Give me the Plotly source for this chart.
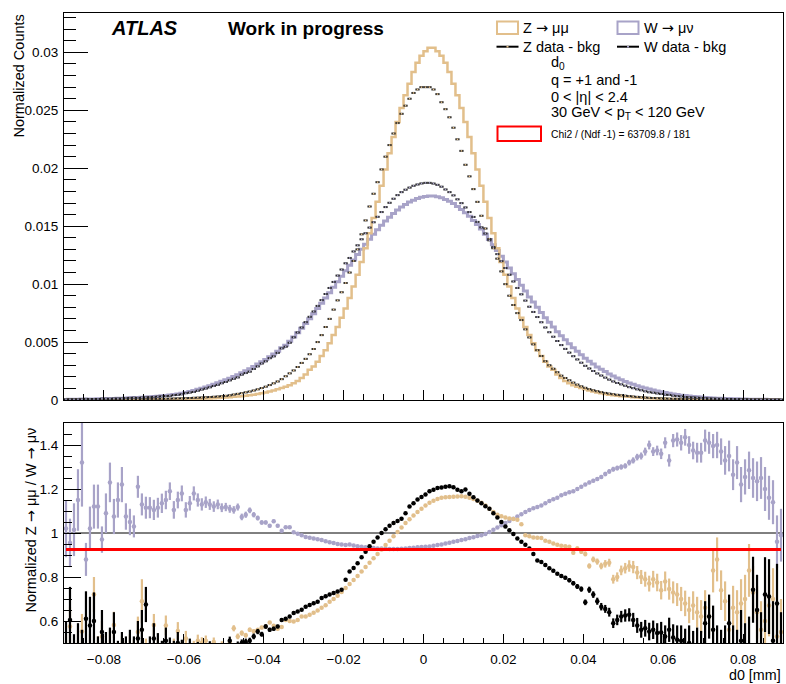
import plotly.graph_objects as go

# ---------------- binning ----------------
x_min, x_max, n_bins = -0.09, 0.09, 180
bin_w = (x_max - x_min) / n_bins
centers = [round(x_min + bin_w * (i + 0.5), 5) for i in range(n_bins)]

# ---------------- top panel (values in units of 1e-4) ----------------
z_mc_e4 = [
    0.10, 0.11, 0.12, 0.12, 0.13, 0.14, 0.15, 0.16, 0.17, 0.18,
    0.19, 0.20, 0.22, 0.23, 0.25, 0.27, 0.29, 0.31, 0.33, 0.36,
    0.38, 0.41, 0.44, 0.47, 0.50, 0.54, 0.58, 0.62, 0.66, 0.70,
    0.75, 0.82, 0.90, 1.0, 1.1, 1.2, 1.35, 1.5, 1.7, 1.9,
    2.1, 2.4, 2.7, 3.0, 3.3, 3.7, 4.1, 4.6, 5.2, 5.8,
    6.5, 7.3, 8.2, 9.2, 10.3, 11.5, 12.8, 14.5, 16.5, 19,
    22, 26, 29, 33, 38, 43, 49, 56, 63, 71,
    79, 88, 98, 108, 119, 131, 144, 157, 171, 185,
    199, 213, 227, 240, 252, 263, 273, 283, 291, 297,
    301, 304, 304, 301, 297, 291, 283, 273, 263, 252,
    240, 227, 213, 199, 185, 171, 157, 144, 131, 119,
    108, 98, 88, 79, 71, 63, 56, 49, 43, 38,
    33, 29, 26, 22, 19, 16.5, 14.5, 12.8, 11.5, 10.3,
    9.2, 8.2, 7.3, 6.5, 5.8, 5.2, 4.6, 4.1, 3.7, 3.3,
    3.0, 2.7, 2.4, 2.1, 1.9, 1.7, 1.5, 1.35, 1.2, 1.1,
    1.0, 0.90, 0.82, 0.75, 0.70, 0.66, 0.62, 0.58, 0.54, 0.50,
    0.47, 0.44, 0.41, 0.38, 0.36, 0.33, 0.31, 0.29, 0.27, 0.25,
    0.23, 0.22, 0.20, 0.19, 0.18, 0.17, 0.16, 0.15, 0.14, 0.13,
]
z_data_e4 = [
    0.22, 0.24, 0.25, 0.27, 0.28, 0.30, 0.32, 0.34, 0.36, 0.38,
    0.40, 0.42, 0.45, 0.48, 0.52, 0.56, 0.60, 0.66, 0.72, 0.78,
    0.85, 0.90, 0.95, 1.0, 1.06, 1.12, 1.2, 1.3, 1.4, 1.5,
    1.6, 1.75, 1.9, 2.05, 2.2, 2.4, 2.6, 2.8, 3.05, 3.3,
    3.6, 4.1, 4.7, 5.3, 5.9, 6.6, 7.3, 8.2, 9.2, 10.3,
    11.5, 12.9, 14.4, 16, 18, 20.5, 23, 25.5, 28.5, 32,
    35.5, 39.5, 44, 50, 56, 63, 70, 78, 86, 93,
    101, 110, 120, 130, 143, 155, 167, 178, 188, 199,
    210, 220, 230, 239, 247, 254, 260, 265, 268, 270,
    270, 270, 268, 264, 257, 251, 244, 235, 225, 215,
    203, 193, 182, 171, 159, 148, 139, 131, 122, 111,
    100, 90, 82, 75, 69, 61, 54, 48, 43, 38,
    33.5, 30, 27, 24, 21, 19, 17, 15, 13.3, 11.8,
    10.5, 9.4, 8.4, 7.6, 6.8, 6.1, 5.5, 5.0, 4.5, 4.1,
    3.7, 3.35, 3.0, 2.7, 2.4, 2.15, 1.92, 1.72, 1.55, 1.4,
    1.27, 1.14, 1.02, 0.92, 0.84, 0.78, 0.73, 0.69, 0.65, 0.62,
    0.59, 0.55, 0.52, 0.48, 0.45, 0.42, 0.39, 0.36, 0.33, 0.31,
    0.29, 0.27, 0.25, 0.24, 0.22, 0.21, 0.20, 0.18, 0.17, 0.16,
]
w_mc_e4 = [
    0.6, 0.65, 0.7, 0.75, 0.8, 0.85, 0.9, 0.95, 1.0, 1.1,
    1.2, 1.3, 1.4, 1.5, 1.6, 1.75, 1.9, 2.05, 2.2, 2.4,
    2.6, 2.8, 3.0, 3.3, 3.6, 3.9, 4.3, 4.7, 5.2, 5.8,
    6.5, 7.3, 8.2, 9.2, 10.2, 11.3, 12.4, 13.6, 14.8, 16.1,
    17.4, 18.8, 20.2, 21.8, 23.5, 25.2, 27, 29, 31, 33,
    35, 37.3, 39.7, 42, 45, 47.2, 50.7, 54.3, 58.1, 62,
    66, 70.2, 74.5, 78.9, 83.4, 88, 92.6, 97.3, 102, 106.7,
    111.5, 116.2, 120.9, 125.5, 130, 134.5, 138.8, 143, 147, 150.8,
    154.5, 157.8, 161, 163.9, 166.5, 168.8, 170.8, 172.5, 173.9, 174.9,
    175.6, 176, 176, 175.5, 174.5, 173, 171.5, 169.5, 167, 164.5,
    161.5, 158.5, 155, 151.5, 147.5, 143, 138.5, 134, 129, 124,
    119, 114, 109, 104, 99, 94, 89, 84.5, 80, 75.5,
    71, 67, 63, 59, 55.5, 52, 48.5, 45, 42, 39,
    36, 33.5, 31, 28.5, 26.5, 24.5, 22.5, 20.7, 19, 17.5,
    16, 14.7, 13.5, 12.4, 11.3, 10.3, 9.4, 8.6, 7.8, 7.1,
    6.4, 5.8, 5.2, 4.7, 4.2, 3.8, 3.4, 3.1, 2.8, 2.5,
    2.25, 2.0, 1.8, 1.6, 1.45, 1.3, 1.2, 1.1, 1.0, 0.9,
    0.82, 0.75, 0.7, 0.65, 0.6, 0.55, 0.5, 0.47, 0.44, 0.41,
]
w_data_e4 = [
    0.59, 0.68, 0.69, 0.65, 0.61, 0.97, 0.88, 0.85, 0.89, 1.13,
    1.10, 1.06, 1.30, 1.30, 1.31, 1.63, 1.81, 1.99, 1.82, 2.12,
    2.33, 2.51, 2.71, 2.96, 3.17, 3.39, 3.61, 4.25, 4.52, 4.92,
    5.88, 6.43, 6.95, 8.0, 9.03, 9.91, 10.97, 12.14, 13.1, 14.44,
    15.56, 16.94, 18.28, 19.5, 21.9, 23.27, 24.48, 26.78, 29.03, 31.49,
    33.4, 36.1, 37.7, 40.66, 44.55, 46.0, 49.4, 54.1, 58.3, 62.6,
    67.2, 71.8, 76.4, 81.2, 86.2, 91.5, 96.7, 101.9, 107.4, 112.6,
    118, 122.6, 128.2, 133.5, 138.7, 143.9, 148.8, 153.4, 158.1, 162.2,
    166.5, 170.2, 173.7, 176.8, 179.4, 181.5, 183.3, 184.9, 186, 186.9,
    187.4, 187.4, 186.8, 185.7, 184.1, 181.7, 179.4, 176.6, 173.2, 169.9,
    166.2, 162.2, 158, 153.7, 149, 143.7, 137.8, 132, 125.9, 119.8,
    113.9, 108.1, 102.3, 96.7, 91.2, 85.8, 80.5, 76, 71.6, 67.1,
    62.6, 58.5, 54.6, 50.9, 47.4, 44.1, 40.9, 37.8, 35, 32.2,
    29.5, 27.2, 25, 22.9, 21.1, 19.3, 17.6, 16, 14.7, 13.5,
    12.3, 11.1, 10.2, 9.2, 8.4, 7.5, 6.7, 6.3, 5.7, 5.2,
    4.5, 4.4, 3.7, 3.3, 3.0, 2.6, 2.4, 2.25, 2.05, 1.83,
    1.58, 1.42, 1.29, 1.14, 1.06, 0.98, 0.89, 0.87, 0.76, 0.74,
    0.65, 0.58, 0.56, 0.53, 0.48, 0.45, 0.43, 0.41, 0.46, 0.41,
]

# ---------------- ratio panel ----------------
ratio_w = [
    1.02, 0.955, 1.015, 1.15, 1.32, 0.88, 1.02, 1.12, 1.12, 0.97,
    1.09, 1.23, 1.075, 1.15, 1.22, 1.075, 1.05, 1.03, 1.21, 1.13,
    1.115, 1.115, 1.105, 1.115, 1.135, 1.15, 1.19, 1.105, 1.15, 1.18,
    1.105, 1.135, 1.18, 1.15, 1.13, 1.14, 1.13, 1.12, 1.13, 1.115,
    1.118, 1.11, 1.105, 1.118, 1.073, 1.083, 1.103, 1.083, 1.068, 1.048,
    1.048, 1.033, 1.053, 1.033, 1.01, 1.026, 1.026, 1.003, 0.997, 0.99,
    0.982, 0.978, 0.975, 0.972, 0.968, 0.962, 0.958, 0.955, 0.95, 0.948,
    0.945, 0.948, 0.943, 0.94, 0.937, 0.935, 0.933, 0.932, 0.93, 0.93,
    0.928, 0.927, 0.927, 0.927, 0.928, 0.93, 0.932, 0.933, 0.935, 0.936,
    0.937, 0.939, 0.942, 0.945, 0.948, 0.952, 0.956, 0.96, 0.964, 0.968,
    0.972, 0.977, 0.981, 0.986, 0.99, 0.995, 1.005, 1.015, 1.025, 1.035,
    1.045, 1.055, 1.065, 1.075, 1.085, 1.095, 1.105, 1.112, 1.118, 1.125,
    1.135, 1.145, 1.153, 1.16, 1.172, 1.178, 1.185, 1.19, 1.2, 1.21,
    1.22, 1.23, 1.238, 1.245, 1.255, 1.268, 1.28, 1.29, 1.295, 1.3,
    1.305, 1.32, 1.33, 1.345, 1.35, 1.37, 1.40, 1.37, 1.375, 1.36,
    1.41, 1.33, 1.42, 1.425, 1.41, 1.435, 1.40, 1.375, 1.365, 1.365,
    1.42, 1.41, 1.395, 1.40, 1.37, 1.33, 1.35, 1.265, 1.32, 1.22,
    1.255, 1.285, 1.25, 1.235, 1.25, 1.2, 1.16, 1.14, 0.96, 0.99,
]
ratio_w_err = [
    0.13, 0.11, 0.12, 0.14, 0.2, 0.075, 0.1, 0.1, 0.1, 0.06,
    0.09, 0.09, 0.08, 0.08, 0.08, 0.06, 0.06, 0.05, 0.05, 0.05,
    0.05, 0.048, 0.046, 0.045, 0.044, 0.042, 0.04, 0.04, 0.038, 0.036,
    0.035, 0.033, 0.032, 0.03, 0.028, 0.026, 0.025, 0.024, 0.022, 0.02,
    0.019, 0.018, 0.017, 0.016, 0.015, 0.014, 0.013, 0.012, 0.011, 0.01,
    0.009, 0.008, 0.008, 0.007, 0.007, 0.006, 0.006, 0.005, 0.005, 0.005,
    0.004, 0.004, 0.004, 0.004, 0.004, 0.003, 0.003, 0.003, 0.003, 0.003,
    0.003, 0.003, 0.003, 0.003, 0.003, 0.003, 0.003, 0.003, 0.003, 0.003,
    0.003, 0.003, 0.003, 0.003, 0.003, 0.003, 0.003, 0.003, 0.003, 0.003,
    0.003, 0.003, 0.003, 0.003, 0.003, 0.003, 0.003, 0.003, 0.003, 0.003,
    0.003, 0.003, 0.003, 0.003, 0.003, 0.003, 0.003, 0.003, 0.003, 0.003,
    0.003, 0.003, 0.003, 0.003, 0.003, 0.003, 0.004, 0.004, 0.004, 0.004,
    0.004, 0.005, 0.005, 0.005, 0.005, 0.006, 0.006, 0.006, 0.007, 0.007,
    0.007, 0.008, 0.008, 0.009, 0.009, 0.01, 0.01, 0.011, 0.011, 0.012,
    0.012, 0.013, 0.014, 0.015, 0.016, 0.018, 0.02, 0.02, 0.022, 0.024,
    0.025, 0.028, 0.03, 0.032, 0.035, 0.038, 0.04, 0.04, 0.045, 0.045,
    0.05, 0.05, 0.055, 0.06, 0.06, 0.065, 0.07, 0.07, 0.075, 0.08,
    0.08, 0.085, 0.09, 0.09, 0.095, 0.1, 0.1, 0.1, 0.12, 0.12,
]
ratio_z = [
    0.45, 0.575, 0.40, 0.48, 0.552, 0.42, 0.47, 0.72, 0.46, 0.53,
    0.44, 0.49, 0.582, 0.43, 0.47, 0.45, 0.48, 0.46, 0.55, 0.69,
    0.47, 0.45, 0.582, 0.47, 0.44, 0.58, 0.46, 0.48, 0.555, 0.47,
    0.52, 0.46, 0.48, 0.51, 0.50, 0.51, 0.47, 0.505, 0.47, 0.49,
    0.48, 0.50, 0.567, 0.53, 0.545, 0.535, 0.56, 0.553, 0.56, 0.57,
    0.575, 0.593, 0.578, 0.565, 0.573, 0.605, 0.60, 0.598, 0.605, 0.62,
    0.62, 0.628, 0.638, 0.648, 0.66, 0.672, 0.687, 0.70, 0.715, 0.732,
    0.75, 0.768, 0.786, 0.805, 0.825, 0.845, 0.865, 0.885, 0.905, 0.925,
    0.945, 0.965, 0.985, 1.005, 1.025, 1.045, 1.063, 1.08, 1.095, 1.11,
    1.125, 1.137, 1.147, 1.155, 1.16, 1.163, 1.164, 1.165, 1.166, 1.167,
    1.165, 1.16, 1.155, 1.147, 1.137, 1.125, 1.11, 1.095, 1.083, 1.076,
    1.07, 1.066, 1.064, 1.06, 1.04, 0.99, 0.985, 0.98, 0.978, 0.977,
    0.965, 0.96, 0.952, 0.947, 0.942, 0.94, 0.938, 0.91, 0.93, 0.915,
    0.905, 0.85, 0.88, 0.87, 0.85, 0.86, 0.865, 0.79, 0.80, 0.83,
    0.84, 0.85, 0.845, 0.82, 0.80, 0.79, 0.77, 0.79, 0.775, 0.74,
    0.78, 0.745, 0.73, 0.72, 0.70, 0.68, 0.65, 0.67, 0.64, 0.62,
    0.66, 0.62, 0.83, 0.88, 0.74, 0.69, 0.56, 0.66, 0.64, 0.68,
    0.70, 0.83, 0.73, 0.64, 0.56, 0.60, 0.67, 0.70, 0.53, 0.55,
]
ratio_z_err = [
    0.08, 0.09, 0.08, 0.08, 0.08, 0.07, 0.07, 0.08, 0.07, 0.07,
    0.07, 0.07, 0.06, 0.06, 0.06, 0.06, 0.06, 0.06, 0.07, 0.1,
    0.05, 0.05, 0.05, 0.05, 0.045, 0.045, 0.04, 0.04, 0.04, 0.035,
    0.035, 0.03, 0.03, 0.028, 0.026, 0.024, 0.022, 0.02, 0.02, 0.018,
    0.016, 0.015, 0.014, 0.013, 0.012, 0.011, 0.01, 0.009, 0.008, 0.008,
    0.007, 0.007, 0.006, 0.006, 0.005, 0.005, 0.005, 0.004, 0.004, 0.004,
    0.003, 0.003, 0.003, 0.003, 0.003, 0.003, 0.003, 0.003, 0.003, 0.003,
    0.003, 0.003, 0.003, 0.003, 0.003, 0.003, 0.003, 0.003, 0.003, 0.003,
    0.003, 0.003, 0.003, 0.003, 0.003, 0.003, 0.003, 0.003, 0.003, 0.003,
    0.003, 0.003, 0.003, 0.003, 0.003, 0.003, 0.003, 0.003, 0.003, 0.003,
    0.003, 0.003, 0.003, 0.003, 0.003, 0.003, 0.003, 0.003, 0.003, 0.003,
    0.003, 0.003, 0.003, 0.003, 0.003, 0.003, 0.003, 0.003, 0.003, 0.003,
    0.004, 0.004, 0.005, 0.005, 0.006, 0.006, 0.007, 0.008, 0.009, 0.01,
    0.011, 0.012, 0.013, 0.014, 0.015, 0.017, 0.018, 0.02, 0.021, 0.022,
    0.024, 0.026, 0.028, 0.03, 0.032, 0.034, 0.036, 0.038, 0.04, 0.042,
    0.045, 0.048, 0.05, 0.052, 0.055, 0.058, 0.06, 0.065, 0.07, 0.075,
    0.08, 0.085, 0.1, 0.1, 0.09, 0.09, 0.1, 0.1, 0.1, 0.11,
    0.11, 0.12, 0.12, 0.12, 0.13, 0.13, 0.14, 0.14, 0.15, 0.15,
]
ratio_zw = [
    0.45, 0.605, 0.42, 0.47, 0.44, 0.61, 0.58, 0.60, 0.43, 0.55,
    0.45, 0.47, 0.55, 0.42, 0.46, 0.44, 0.48, 0.45, 0.52, 0.56,
    0.675, 0.46, 0.52, 0.48, 0.45, 0.51, 0.47, 0.46, 0.50, 0.47,
    0.46, 0.48, 0.44, 0.47, 0.46, 0.45, 0.48, 0.46, 0.47, 0.45,
    0.47, 0.51, 0.48, 0.49, 0.50, 0.505, 0.51, 0.53, 0.552, 0.54,
    0.575, 0.56, 0.565, 0.575, 0.605, 0.61, 0.62, 0.636, 0.643, 0.651,
    0.665, 0.673, 0.681, 0.688, 0.704, 0.712, 0.72, 0.727, 0.734, 0.742,
    0.787, 0.825, 0.841, 0.863, 0.89, 0.915, 0.94, 0.96, 0.98, 1.0,
    1.017, 1.033, 1.045, 1.055, 1.065, 1.09, 1.12, 1.135, 1.152, 1.164,
    1.175, 1.19, 1.197, 1.205, 1.207, 1.21, 1.212, 1.208, 1.197, 1.19,
    1.198, 1.178, 1.162, 1.148, 1.135, 1.122, 1.11, 1.09, 1.07, 1.05,
    1.03, 1.012, 0.995, 0.975, 0.96, 0.947, 0.93, 0.905, 0.875, 0.868,
    0.855, 0.84, 0.828, 0.815, 0.805, 0.797, 0.785, 0.772, 0.757, 0.745,
    0.685, 0.742, 0.72, 0.69, 0.665, 0.655, 0.64, 0.59, 0.605, 0.62,
    0.625, 0.628, 0.605, 0.58, 0.56, 0.567, 0.552, 0.56, 0.545, 0.548,
    0.53, 0.56, 0.525, 0.515, 0.51, 0.49, 0.50, 0.47, 0.48, 0.46,
    0.59, 0.62, 0.56, 0.47, 0.44, 0.46, 0.59, 0.45, 0.42, 0.51,
    0.44, 0.47, 0.742, 0.65, 0.48, 0.72, 0.711, 0.51, 0.68, 0.45,
]
ratio_zw_err = [
    0.15, 0.15, 0.12, 0.12, 0.12, 0.125, 0.13, 0.13, 0.1, 0.1,
    0.1, 0.1, 0.09, 0.09, 0.09, 0.09, 0.08, 0.08, 0.08, 0.09,
    0.08, 0.07, 0.07, 0.065, 0.06, 0.06, 0.055, 0.05, 0.05, 0.045,
    0.04, 0.04, 0.035, 0.035, 0.03, 0.03, 0.028, 0.026, 0.024, 0.022,
    0.02, 0.019, 0.018, 0.017, 0.016, 0.015, 0.014, 0.013, 0.012, 0.011,
    0.01, 0.009, 0.009, 0.008, 0.008, 0.007, 0.007, 0.006, 0.006, 0.005,
    0.004, 0.004, 0.004, 0.004, 0.004, 0.004, 0.004, 0.004, 0.004, 0.004,
    0.004, 0.004, 0.004, 0.004, 0.004, 0.004, 0.004, 0.004, 0.004, 0.004,
    0.004, 0.004, 0.004, 0.004, 0.004, 0.004, 0.004, 0.004, 0.004, 0.004,
    0.004, 0.004, 0.004, 0.004, 0.004, 0.004, 0.004, 0.004, 0.004, 0.004,
    0.004, 0.004, 0.004, 0.004, 0.004, 0.004, 0.004, 0.004, 0.004, 0.004,
    0.004, 0.004, 0.004, 0.004, 0.004, 0.004, 0.004, 0.004, 0.004, 0.004,
    0.005, 0.005, 0.006, 0.006, 0.007, 0.008, 0.009, 0.01, 0.011, 0.012,
    0.013, 0.014, 0.015, 0.016, 0.017, 0.018, 0.02, 0.022, 0.024, 0.026,
    0.028, 0.03, 0.032, 0.034, 0.036, 0.038, 0.04, 0.042, 0.045, 0.048,
    0.05, 0.055, 0.06, 0.065, 0.07, 0.075, 0.08, 0.085, 0.09, 0.095,
    0.1, 0.1, 0.11, 0.11, 0.12, 0.12, 0.13, 0.13, 0.14, 0.14,
    0.15, 0.15, 0.15, 0.16, 0.16, 0.17, 0.17, 0.18, 0.18, 0.19,
]
fit_const = 0.925
chi2_text = "Chi2 / (Ndf -1) = 63709.8 / 181"

scale = 1e-4
z_mc = [v * scale for v in z_mc_e4]
z_data = [v * scale for v in z_data_e4]
w_mc = [v * scale for v in w_mc_e4]
w_data = [v * scale for v in w_data_e4]

# ---------------- style ----------------
TAN = "#e2bf8b"
LAV = "#a8a3c8"
FONT = "Liberation Sans, Arial, Helvetica, sans-serif"
ARROW = '<span style="font-family:DejaVu Sans">→</span>'
W_PX, H_PX = 786, 684
L, R, T, B = 64, 783, 13, 643


def px(xp):
    return (xp - L) / (R - L)


def py(yp):
    return (B - yp) / (B - T)


fig = go.Figure()

# top panel histograms
fig.add_trace(go.Scatter(x=centers, y=w_mc, mode="lines", line=dict(color=LAV, width=3, shape="hvh"),
                         xaxis="x", yaxis="y", showlegend=False))
fig.add_trace(go.Scatter(x=centers, y=z_mc, mode="lines", line=dict(color=TAN, width=2.5, shape="hvh"),
                         xaxis="x", yaxis="y", showlegend=False))
for data, col in ((z_data, TAN), (w_data, LAV)):
    fig.add_trace(go.Scatter(x=centers, y=data, mode="markers",
                             marker=dict(symbol="line-ew", size=3, line=dict(color="#222222", width=2)),
                             xaxis="x", yaxis="y", showlegend=False))
    fig.add_trace(go.Scatter(x=centers, y=data, mode="markers",
                             marker=dict(symbol="square", size=1.5, color=col, line=dict(width=0)),
                             xaxis="x", yaxis="y", showlegend=False))

# ratio panel
for vals, errs, col in ((ratio_w, ratio_w_err, LAV), (ratio_z, ratio_z_err, TAN), (ratio_zw, ratio_zw_err, "#000000")):
    fig.add_trace(go.Scatter(x=centers, y=vals, mode="markers",
                             marker=dict(symbol="circle", size=4.5, color=col, line=dict(width=0)),
                             error_y=dict(type="data", array=errs, visible=True, color=col, thickness=2.2, width=0),
                             xaxis="x2", yaxis="y2", showlegend=False))

top_dom = [py(400), 1.0]
bot_dom = [0.0, py(423)]

tickfont = dict(family=FONT, size=13.5, color="black")
common_axis = dict(showgrid=False, zeroline=False, showline=True, linecolor="black", linewidth=1,
                   mirror=True, ticks="inside", tickcolor="black", tickwidth=1, tickfont=tickfont)

fig.update_layout(
    width=W_PX, height=H_PX,
    margin=dict(l=L, r=W_PX - R, t=T, b=H_PX - B),
    paper_bgcolor="white", plot_bgcolor="white",
    showlegend=False,
    xaxis=dict(common_axis, domain=[0, 1], range=[x_min, x_max], anchor="y", showticklabels=False,
               tick0=0, dtick=0.02, ticklen=10,
               minor=dict(dtick=0.005, tick0=0, ticklen=6, ticks="inside", tickcolor="black", tickwidth=1)),
    yaxis=dict(common_axis, domain=top_dom, range=[0, 0.0334], anchor="x",
               tick0=0, dtick=0.005, ticklen=24, ticklabelstandoff=2,
               minor=dict(dtick=0.001, tick0=0, ticklen=12, ticks="inside", tickcolor="black", tickwidth=1)),
    xaxis2=dict(common_axis, domain=[0, 1], range=[x_min, x_max], anchor="y2", matches="x",
                tick0=0, dtick=0.02, ticklen=9, ticklabelstandoff=4,
                minor=dict(dtick=0.005, tick0=0, ticklen=5, ticks="inside", tickcolor="black", tickwidth=1)),
    yaxis2=dict(common_axis, domain=bot_dom, range=[0.5, 1.5], anchor="x2",
                tick0=0, dtick=0.2, ticklen=17, ticklabelstandoff=2,
                minor=dict(dtick=0.05, tick0=0, ticklen=8, ticks="inside", tickcolor="black", tickwidth=1)),
)

shapes = [
    dict(type="line", xref="x2", yref="y2", x0=x_min, x1=x_max, y0=1, y1=1,
         line=dict(color="black", width=1), layer="below"),
    dict(type="line", xref="x2", yref="y2", x0=centers[0], x1=centers[-1], y0=fit_const, y1=fit_const,
         line=dict(color="#ff0000", width=3), layer="above"),
    # legend swatches
    dict(type="rect", xref="paper", yref="paper", x0=px(497), x1=px(518), y0=py(34), y1=py(21.5),
         line=dict(color=TAN, width=2)),
    dict(type="rect", xref="paper", yref="paper", x0=px(617.5), x1=px(638.5), y0=py(34), y1=py(21.5),
         line=dict(color=LAV, width=2)),
    dict(type="line", xref="paper", yref="paper", x0=px(496.5), x1=px(518.5), y0=py(46.7), y1=py(46.7),
         line=dict(color="black", width=2)),
    dict(type="line", xref="paper", yref="paper", x0=px(617), x1=px(639), y0=py(46.7), y1=py(46.7),
         line=dict(color="black", width=2)),
    dict(type="rect", xref="paper", yref="paper", x0=px(506.5), x1=px(508.5), y0=py(47.5), y1=py(45.9),
         line=dict(width=0), fillcolor=TAN),
    dict(type="rect", xref="paper", yref="paper", x0=px(627), x1=px(629), y0=py(47.5), y1=py(45.9),
         line=dict(width=0), fillcolor=LAV),
    dict(type="rect", xref="paper", yref="paper", x0=px(497.5), x1=px(541), y0=py(141), y1=py(126.5),
         line=dict(color="#ff0000", width=2)),
]
fig.update_layout(shapes=shapes)


def note(text, xp, yp, size, xanchor="left", yanchor="middle", angle=0):
    return dict(text=text, x=px(xp), y=py(yp), xref="paper", yref="paper", showarrow=False,
                xanchor=xanchor, yanchor=yanchor, textangle=angle,
                font=dict(family=FONT, size=size, color="black"))


annotations = [
    note("<b><i>ATLAS</i></b>", 109, 28, 20),
    note("<b>Work in progress</b>", 226, 28, 19),
    note(f"Z {ARROW} μμ", 521, 28, 14.5),
    note(f"W {ARROW} μν", 642, 28, 14.5),
    note("Z data - bkg", 521, 46.5, 14.5),
    note("W data - bkg", 642, 46.5, 14.5),
    note("d<sub>0</sub>", 549, 63, 14.5),
    note("q = +1 and -1", 549, 80, 14.5),
    note("0 &lt; |η| &lt; 2.4", 549, 96.7, 14.5),
    note("30 GeV &lt; p<sub>T</sub> &lt; 120 GeV", 549, 113.3, 14.5),
    note(chi2_text, 549, 134.5, 10.3),
    note("Normalized Counts", 18, 13, 14.5, xanchor="center", yanchor="top", angle=-90),
    note(f"Normalized Z {ARROW} μμ / W {ARROW} μν", 30, 426, 14.5, xanchor="center", yanchor="top", angle=-90),
    note("d0 [mm]", 783, 675, 14.3, xanchor="right"),
]
fig.update_layout(annotations=annotations)

fig.write_html("out.html")
